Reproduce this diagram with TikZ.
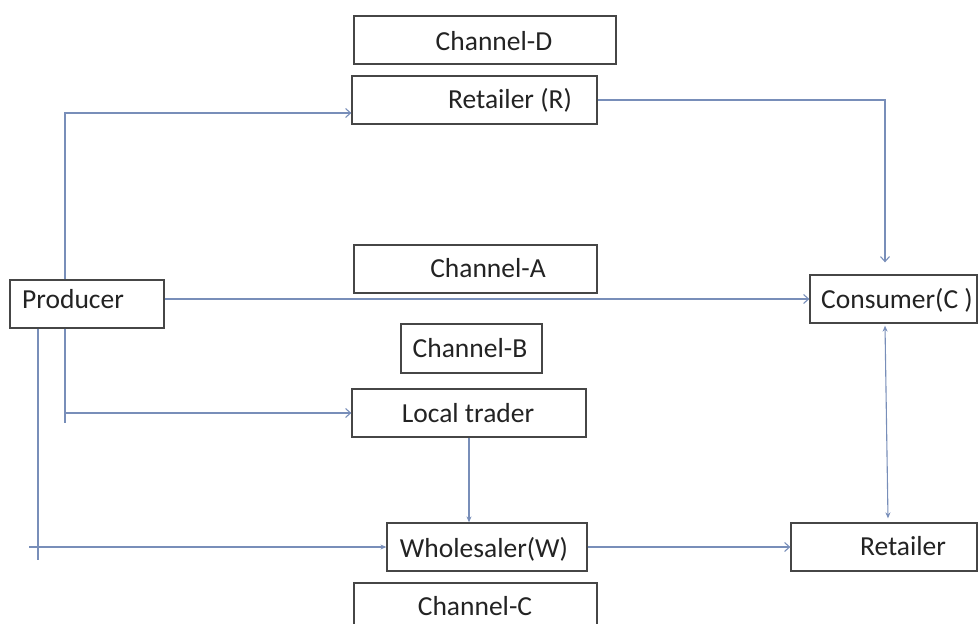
\documentclass[tikz,border=0pt]{standalone}
\usepackage{fontspec}
\setmainfont{Carlito}
\usetikzlibrary{arrows.meta,calc}
\definecolor{boxc}{RGB}{70,70,70}
\definecolor{linec}{RGB}{120,142,185}
\definecolor{txtc}{RGB}{35,35,35}
\begin{document}
\begin{tikzpicture}[x=1pt,y=-1pt,
  box/.style={draw=boxc,line width=1.3pt,fill=white,inner sep=0pt,minimum height=48pt},
  lbl/.style={inner sep=0pt,anchor=base,text=txtc,font=\fontsize{27.5}{32}\selectfont},
  conn/.style={draw=linec,line width=1.1pt},
  opentip/.style={-{Straight Barb[length=5pt,width=9pt]}},
  filltip/.style={-{Stealth[length=6pt,width=5pt]}},
]
\useasboundingbox (0,0) rectangle (978,624);

% boxes
\node[box,minimum width=262pt] (chD)  at (485,40)    {};
\node[box,minimum width=245pt] (rr)   at (474.5,100) {};
\node[box,minimum width=243pt] (chA)  at (475.5,269) {};
\node[box,minimum width=154pt] (pb)   at (87,304)    {};
\node[box,minimum width=141pt,minimum height=49pt] (chB) at (471.5,348.5) {};
\node[box,minimum width=234pt] (lt)   at (469,413)   {};
\node[box,minimum width=200pt] (wh)   at (487,547)   {};
\node[box,minimum width=243pt] (chC)  at (475.5,607) {};
\node[box,minimum width=167pt] (cons) at (893.5,299) {};
\node[box,minimum width=186pt] (rt)   at (884,547)   {};

% texts
\node[lbl] (tD)    at (494,50)  {Channel-D};
\node[lbl] (tR)    at (510,108) {Retailer (R)};
\node[lbl] (tA)    at (488,277) {Channel-A};
\node[lbl,anchor=base west] (tP) at (22,308) {Producer};
\node[lbl] (tB)    at (470,357) {Channel-B};
\node[lbl] (tL)    at (468,422) {Local trader};
\node[lbl] (tW)    at (484,557) {Wholesaler(W)};
\node[lbl] (tC)    at (475,615) {Channel-C};
\node[lbl] (tCons) at (897,308) {Consumer(C )};
\node[lbl] (tRt)   at (903,555) {Retailer};

% bend points
\coordinate (k1) at (65,113);
\coordinate (k2) at (65,423);
\coordinate (k3) at (38,560);
\coordinate (k4) at (885,100);
\coordinate (k5) at (29,547);

% connectors
\draw[conn,opentip] (pb.north -| k1) |- (rr.west |- k1);
\draw[conn] (pb.south -| k2) -- (k2);
\draw[conn,opentip] (k2 |- lt.west) -- (lt.west);
\draw[conn] (pb.south -| k3) -- (k3);
\draw[conn,filltip] (k5) -- (wh.west);
\draw[conn,opentip] (pb.east |- cons.west) -- (cons.west);
\draw[conn,opentip,shorten >=12pt] (rr.east) -| (cons.north -| k4);
\draw[conn,filltip] (lt.south) -- (wh.north -| lt.south);
\draw[conn,opentip] (wh.east) -- (rt.west);
\draw[conn,{Stealth[length=6pt,width=5pt]}-{Stealth[length=6pt,width=5pt]}]
  ($(cons.south)+(-8.5,2)$) -- ($(rt.north)+(4,-4)$);
\end{tikzpicture}
\end{document}
